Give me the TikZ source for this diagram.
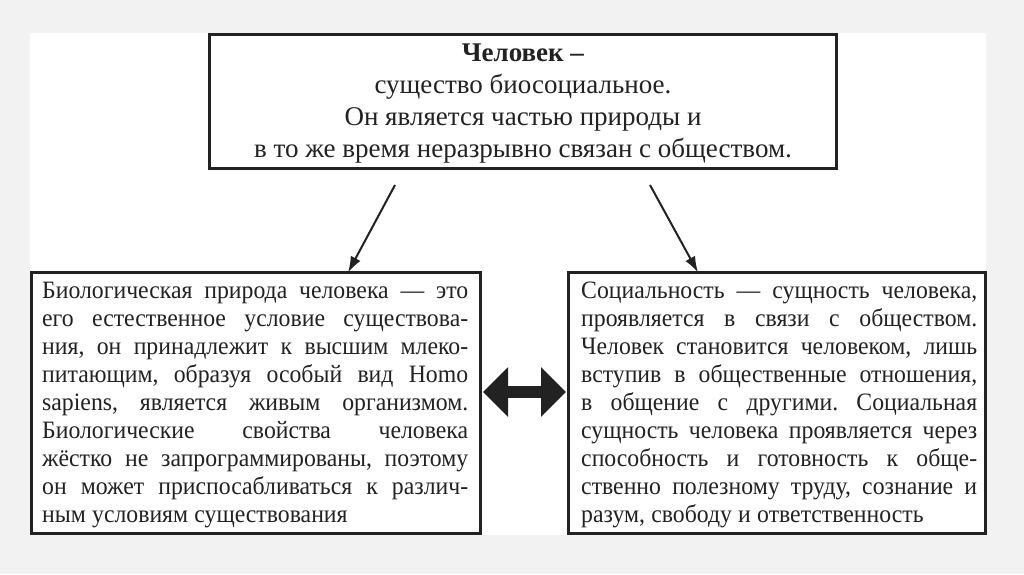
\documentclass[tikz,border=0pt]{standalone}
\usepackage{fontspec}
\setmainfont{Liberation Serif}
\newfontfamily\bodyfont[FakeStretch=0.95]{Liberation Serif}
\usetikzlibrary{arrows.meta}
\definecolor{bggray}{HTML}{F2F2F2}
\definecolor{ink}{HTML}{222222}
\tikzset{
  box/.style={draw=ink, line width=3pt},
  frame/.style={anchor=north west, inner sep=0pt},
  arr/.style={draw=ink, line width=2pt, -{Latex[length=16pt,width=11pt]}},
  bodytext/.style={text=ink, anchor=base west, inner sep=0pt, font=\bodyfont\fontsize{25}{28.1}\selectfont},
}
\newcommand{\lbr}{\linebreak}
\frenchspacing
\begin{document}
\begin{tikzpicture}[x=1pt,y=-1pt]
\useasboundingbox (0,0) rectangle (1024,574);
\fill[bggray] (0,0) rectangle (1024,574);
\fill[white] (30,33) rectangle (986,535);
% boxes
\draw[box] (209.5,34.5) rectangle (836.5,168.5);
\node (top) [frame, minimum width=627pt, minimum height=134pt] at (209.5,34.5) {};
\node[text=ink, align=center, font=\fontsize{27}{32}\selectfont] at (523,104)
 {\textbf{Человек –}\\существо биосоциальное.\\Он является частью природы и\\в то же время неразрывно связан с обществом.};
\draw[box] (31.5,272.5) rectangle (480.5,533.5);
\node (left) [frame, minimum width=449pt, minimum height=261pt] at (31.5,272.5) {};
\draw[box] (568.5,272.5) rectangle (985,533.5);
\node (right) [frame, minimum width=416.5pt, minimum height=261pt] at (568.5,272.5) {};
\node[bodytext] at (42,298)
 {\parbox[t]{426pt}{\parindent=0pt\frenchspacing\spaceskip=0.25em plus 1em minus 0.13em
 Биологическая природа человека — это\lbr
 его естественное условие существова-\lbr
 ния, он принадлежит к высшим млеко-\lbr
 питающим, образуя особый вид Homo\lbr
 sapiens, является живым организмом.\lbr
 Биологические свойства человека\lbr
 жёстко не запрограммированы, поэтому\lbr
 он может приспосабливаться к различ-\lbr
 ным условиям существования}};
\node[bodytext] at (581,298)
 {\parbox[t]{396pt}{\parindent=0pt\frenchspacing\spaceskip=0.25em plus 1em minus 0.13em
 Социальность — сущность человека,\lbr
 проявляется в связи с обществом.\lbr
 Человек становится человеком, лишь\lbr
 вступив в общественные отношения,\lbr
 в общение с другими. Социальная\lbr
 сущность человека проявляется через\lbr
 способность и готовность к обще-\lbr
 ственно полезному труду, сознание и\lbr
 разум, свободу и ответственность}};
% connectors
\coordinate (a1) at (395,185);
\coordinate (a2) at (650,185);
\coordinate (b1) at (348,0);
\coordinate (b2) at (698,0);
\draw[arr] (a1) -- (left.north -| b1);
\draw[arr] (a2) -- (right.north -| b2);
% double arrow
\coordinate (d1) at (483,392);
\coordinate (d2) at (566,392);
\draw[draw=ink, line width=12pt, {Triangle[length=25pt,width=48pt]}-{Triangle[length=25pt,width=48pt]}] (d1) -- (d2);
\end{tikzpicture}
\end{document}
